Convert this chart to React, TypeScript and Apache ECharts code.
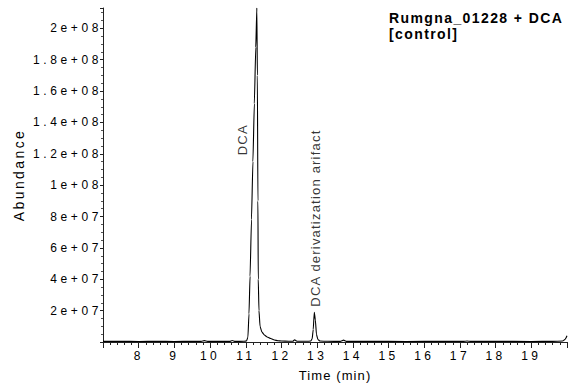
import React, { useEffect, useRef } from "react";
import * as echarts from "echarts";

// Retention time (min) and abundance
const times: number[] = [
  7.0, 7.5, 8.0, 8.5, 9.0, 9.5, 9.75, 9.84, 9.93, 10.3, 10.55, 10.62, 10.7, 10.95,
  11.02, 11.06, 11.09, 11.12, 11.16, 11.2, 11.24, 11.28, 11.31, 11.325, 11.34, 11.35,
  11.37, 11.4, 11.45, 11.52, 11.6, 11.7, 11.8, 11.9, 12.0, 12.2, 12.32, 12.37, 12.43,
  12.7, 12.82, 12.86, 12.89, 12.92, 12.95, 12.98, 13.02, 13.08, 13.3, 13.65, 13.74,
  13.82, 14.5, 15.5, 16.5, 17.1, 17.2, 17.3, 18.0, 19.0, 19.6, 19.88, 19.95, 20.0,
];
const abundance: number[] = [
  4e5, 4e5, 3.5e5, 4e5, 3.5e5, 4e5, 4e5, 9e5, 4e5, 4e5, 4e5, 1.0e6, 4e5, 4.5e5,
  7e5, 3e6, 1.8e7, 4.2e7, 7.8e7, 1.15e8, 1.52e8, 1.88e8, 2.13e8, 1.7e8, 9e7, 4e7,
  2e7, 1e7, 6.5e6, 4.5e6, 3.2e6, 2.2e6, 1.3e6, 8e5, 6e5, 5e5, 5e5, 1.4e6, 5e5,
  4.5e5, 6e5, 2e6, 8e6, 1.9e7, 1.4e7, 5e6, 1.6e6, 6e5, 4.5e5, 4e5, 1.2e6,
  4e5, 4e5, 3.5e5, 4e5, 4e5, 6e5, 4e5, 4e5, 3.5e5, 4e5, 6e5, 1.8e6, 4e6,
];

// Axis ticks
const xTickValues: number[] = [8, 9, 10, 11, 12, 13, 14, 15, 16, 17, 18, 19];
const xTickLabels: string[] = ["8", "9", "10", "11", "12", "13", "14", "15", "16", "17", "18", "19"];
const yTickValues: number[] = [2e7, 4e7, 6e7, 8e7, 1e8, 1.2e8, 1.4e8, 1.6e8, 1.8e8, 2e8];
const yTickLabels: string[] = [
  "2e+07", "4e+07", "6e+07", "8e+07", "1e+08", "1.2e+08", "1.4e+08", "1.6e+08", "1.8e+08", "2e+08",
];

// Peak annotations: text and anchor (time, abundance)
const annotationTexts: string[] = ["DCA", "DCA derivatization arifact"];
const annotationTimes: number[] = [10.9, 12.96];
const annotationValues: number[] = [1.29e8, 7.9e7];

const titleLines: string[] = ["Rumgna_01228 + DCA", "[control]"];
const xName = "Time (min)";
const yName = "Abundance";

const FONT = "'Liberation Sans', Arial, sans-serif";

export default function App() {
  const ref = useRef<HTMLDivElement>(null);
  useEffect(() => {
    if (!ref.current) return;
    const chart = echarts.init(ref.current, null, { renderer: "svg" });
    const lookup = (vals: number[], labels: string[]) => (v: number) => {
      const i = vals.findIndex((t) => Math.abs(t - v) < 1e-6 * Math.max(1, Math.abs(t)));
      return i >= 0 ? labels[i] : "";
    };
    // wide letter pitch of the original rendering
    const spacing: Record<string, number> = {};
    xTickLabels.forEach((l) => (spacing[l] = 3.4));
    yTickLabels.forEach((l) => (spacing[l] = 3.6));
    titleLines.forEach((l) => (spacing[l] = 1.4));
    annotationTexts.forEach((l) => (spacing[l] = 1.2));
    spacing[xName] = 1.1;
    spacing[yName] = 2.4;
    const applySpacing = () => {
      if (!ref.current) return;
      ref.current.querySelectorAll("text").forEach((t) => {
        const s = spacing[(t.textContent || "").trim()];
        if (s != null) (t as SVGTextElement).style.letterSpacing = s + "px";
      });
    };
    chart.on("finished", applySpacing);
    chart.setOption({
      animation: false,
      backgroundColor: "#ffffff",
      title: {
        text: titleLines.join("\n"),
        left: 389,
        top: 10,
        padding: 0,
        textStyle: {
          fontFamily: FONT,
          fontSize: 14,
          fontWeight: "bold",
          lineHeight: 16,
          color: "#000",
        },
      },
      grid: { left: 103, right: 0, top: 8, bottom: 45, containLabel: false },
      xAxis: {
        type: "value",
        min: 7,
        max: 20,
        interval: 1,
        name: xName,
        nameLocation: "middle",
        nameGap: 27,
        nameTextStyle: { fontFamily: FONT, fontSize: 13, color: "#000" },
        axisLine: { show: true, onZero: false, lineStyle: { color: "#222", width: 1 } },
        axisTick: { show: true, length: 6, lineStyle: { color: "#222" } },
        minorTick: { show: true, splitNumber: 5, length: 3, lineStyle: { color: "#222" } },
        splitLine: { show: false },
        axisLabel: {
          margin: 8,
          fontFamily: FONT,
          fontSize: 12,
          color: "#000",
          formatter: lookup(xTickValues, xTickLabels),
        },
      },
      yAxis: {
        type: "value",
        min: 0,
        max: 2.13e8,
        interval: 2e7,
        name: yName,
        nameLocation: "middle",
        nameGap: 77,
        nameTextStyle: { fontFamily: FONT, fontSize: 14, color: "#000" },
        axisLine: { show: true, lineStyle: { color: "#222", width: 1 } },
        axisTick: { show: true, length: 3, lineStyle: { color: "#222" } },
        minorTick: { show: true, splitNumber: 4, length: 2, lineStyle: { color: "#555" } },
        splitLine: { show: false },
        axisLabel: {
          margin: 1,
          fontFamily: FONT,
          fontSize: 12,
          color: "#000",
          showMaxLabel: false,
          formatter: lookup(yTickValues, yTickLabels),
        },
      },
      series: [
        {
          type: "line",
          data: times.map((t, i) => [t, abundance[i]]),
          showSymbol: false,
          symbol: "none",
          smooth: 0.15,
          smoothMonotone: "x",
          lineStyle: { color: "#000", width: 1.1 },
          clip: true,
          silent: true,
        },
        {
          type: "scatter",
          symbolSize: 0,
          silent: true,
          data: annotationTimes.map((t, i) => ({
            value: [t, annotationValues[i]],
            label: { formatter: annotationTexts[i] },
          })),
          label: {
            show: true,
            position: "inside",
            rotate: 90,
            align: "center",
            verticalAlign: "middle",
            fontFamily: FONT,
            fontSize: 13,
            color: "#000",
          },
        },
      ],
    });
    applySpacing();
    return () => chart.dispose();
  }, []);
  return (
    <div
      ref={ref}
      style={{ position: "fixed", left: 0, top: 0, width: 570, height: 387 }}
    />
  );
}
